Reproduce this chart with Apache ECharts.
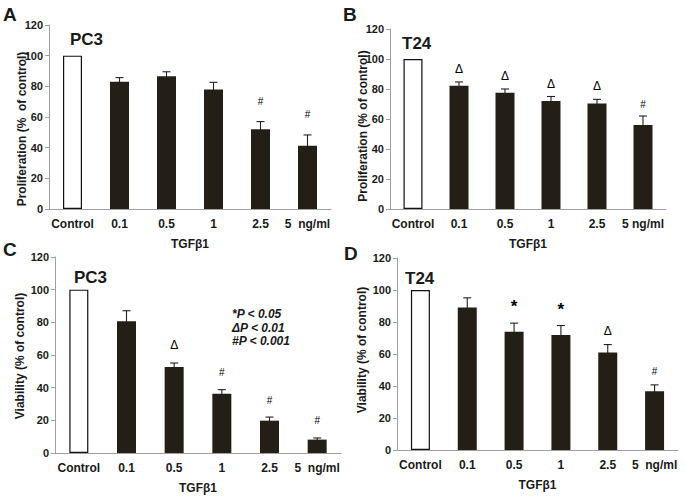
<!DOCTYPE html>
<html>
<head>
<meta charset="utf-8">
<script src="https://cdn.jsdelivr.net/npm/echarts@6/dist/echarts.min.js"></script>
<style>
html,body{margin:0;padding:0;background:#fff;}
#chart{width:685px;height:497px;}
</style>
</head>
<body>
<div id="chart"></div>
<script>
// ---- data ----
const categoriesA = ['Control', '0.1', '0.5', '1', '2.5', '5  ng/ml'];
const categoriesB = ['Control', '0.1', '0.5', '1', '2.5', '5 ng/ml'];
const categoriesC = ['Control', '0.1', '0.5', '1', '2.5', '5  ng/ml'];
const categoriesD = ['Control', '0.1', '0.5', '1', '2.5', '5  ng/ml'];

const valuesA = [100, 83, 86.5, 78, 52, 41.3];
const errorsA = [0, 2.7, 3, 4.6, 5, 7];
const marksA  = ['', '', '', '', '#', '#'];

const valuesB = [100, 82.2, 77.5, 72, 70.4, 56];
const errorsB = [0, 2.5, 2.5, 3, 2.7, 6];
const marksB  = ['', '\u0394', '\u0394', '\u0394', '\u0394', '#'];

const valuesC = [100, 80.6, 52.7, 36.3, 19.8, 8.2];
const errorsC = [0, 6.5, 2.4, 2.5, 2.2, 1];
const marksC  = ['', '', '\u0394', '#', '#', '#'];

const valuesD = [100, 89.1, 73.9, 71.8, 60.9, 36.7];
const errorsD = [0, 6, 5.4, 6, 5, 4];
const marksD  = ['', '', '*', '*', '\u0394', '#'];

const yTickMin = 0, yTickMax = 120, yTickStep = 20;

const panelLetters = ['A', 'B', 'C', 'D'];
const cellNames = ['PC3', 'T24', 'PC3', 'T24'];
const yTitles = ['Proliferation (%  of control)', 'Proliferation (% of control)',
                 'Viability (% of control)', 'Viability (% of control)'];
const xTitle = 'TGF\u03b21';
const legendLines = ['*P < 0.05', '\u0394P < 0.01', '#P < 0.001'];

// ---- layout ----
const FONT = '"Liberation Sans", Arial, sans-serif';
const INK = '#1a1a1a';
const grids = [
  {left: 49,  top: 25,  width: 282, height: 184},
  {left: 390, top: 29,  width: 276, height: 180},
  {left: 55,  top: 257, width: 286, height: 196},
  {left: 397, top: 258, width: 281, height: 192}
];
const markGap = [15, 7, 12, 8];
const panels = [
  {cats: categoriesA, vals: valuesA, errs: errorsA, marks: marksA},
  {cats: categoriesB, vals: valuesB, errs: errorsB, marks: marksB},
  {cats: categoriesC, vals: valuesC, errs: errorsC, marks: marksC},
  {cats: categoriesD, vals: valuesD, errs: errorsD, marks: marksD}
];
const markFont = {'#': 10, '\u0394': 12, '*': 17};

const xAxes = [], yAxes = [], series = [];
panels.forEach((p, i) => {
  xAxes.push({
    type: 'category', gridIndex: i, data: p.cats,
    axisLine: {lineStyle: {color: '#a0a0a0', width: 1}},
    axisTick: {show: false},
    axisLabel: {color: INK, fontWeight: 'bold', fontSize: 12, fontFamily: FONT, margin: 9, interval: 0},
    name: xTitle, nameLocation: 'middle', nameGap: 29,
    nameTextStyle: {color: INK, fontWeight: 'bold', fontSize: 12, fontFamily: FONT}
  });
  yAxes.push({
    type: 'value', gridIndex: i, min: yTickMin, max: yTickMax, interval: yTickStep,
    splitLine: {show: false},
    axisLine: {show: true, lineStyle: {color: '#a0a0a0', width: 1}},
    axisTick: {show: true, length: 4, lineStyle: {color: '#a0a0a0'}},
    axisLabel: {color: INK, fontWeight: 'bold', fontSize: 11, fontFamily: FONT, margin: 6}
  });
  series.push({
    type: 'bar', xAxisIndex: i, yAxisIndex: i, barWidth: 19,
    data: p.vals.map((v, k) => k === 0
      ? {value: v, itemStyle: {color: '#ffffff', borderColor: '#111', borderWidth: 1.2}}
      : {value: v, itemStyle: {color: '#231f16'}}),
    silent: true, animation: false
  });
  series.push({
    type: 'custom', xAxisIndex: i, yAxisIndex: i, silent: true, animation: false,
    itemStyle: {color: INK},
    data: p.vals.map((v, k) => [k, v, p.errs[k], k]),
    renderItem: function (params, api) {
      const k = api.value(3);
      const v = api.value(1), e = api.value(2);
      const children = [];
      const top = api.coord([api.value(0), v + e]);
      const bot = api.coord([api.value(0), v - e]);
      if (e > 0) {
        const st = {stroke: '#222', lineWidth: 1.1};
        children.push({type: 'line', shape: {x1: top[0], y1: top[1], x2: bot[0], y2: bot[1]}, style: st});
        children.push({type: 'line', shape: {x1: top[0] - 4, y1: top[1], x2: top[0] + 4, y2: top[1]}, style: st});
        children.push({type: 'line', shape: {x1: bot[0] - 4, y1: bot[1], x2: bot[0] + 4, y2: bot[1]}, style: st});
      }
      const m = p.marks[k];
      if (m) {
        children.push({type: 'text', style: {
          text: m, x: top[0], y: top[1] - markGap[i], align: 'center', verticalAlign: 'bottom',
          fill: '#000', fontSize: markFont[m], fontFamily: FONT, fontWeight: m === '*' ? 'bold' : 'normal'
        }});
      }
      return {type: 'group', children: children};
    }
  });
});

const titlePos = [[22, 129], [363, 126], [20, 356], [362, 350]];
const letterPos = [[3, 5], [343, 5], [3, 240], [344, 244]];
const cellPos = [[70, 31], [402, 35], [74, 269], [405, 270]];

const graphics = [];
for (let i = 0; i < 4; i++) {
  graphics.push({type: 'text', x: letterPos[i][0], y: letterPos[i][1],
    style: {text: panelLetters[i], fontSize: 19, fontWeight: 'bold', fontFamily: FONT, fill: INK}});
  graphics.push({type: 'text', x: cellPos[i][0], y: cellPos[i][1],
    style: {text: cellNames[i], fontSize: 17, fontWeight: 'bold', fontFamily: FONT, fill: INK}});
  graphics.push({type: 'text', x: titlePos[i][0], y: titlePos[i][1], rotation: Math.PI / 2,
    style: {text: yTitles[i], fontSize: 12, fontWeight: 'bold', fontFamily: FONT, fill: INK,
            align: 'center', verticalAlign: 'middle'}});
}
legendLines.forEach((t, j) => {
  graphics.push({type: 'text', x: 232, y: 308 + j * 13.5,
    style: {text: t, fontSize: 12, fontWeight: 'bold', fontStyle: 'italic', fontFamily: FONT, fill: INK}});
});

const chart = echarts.init(document.getElementById('chart'), null, {renderer: 'svg'});
chart.setOption({
  backgroundColor: '#ffffff',
  animation: false,
  grid: grids,
  xAxis: xAxes,
  yAxis: yAxes,
  series: series,
  graphic: graphics
});
</script>
</body>
</html>
